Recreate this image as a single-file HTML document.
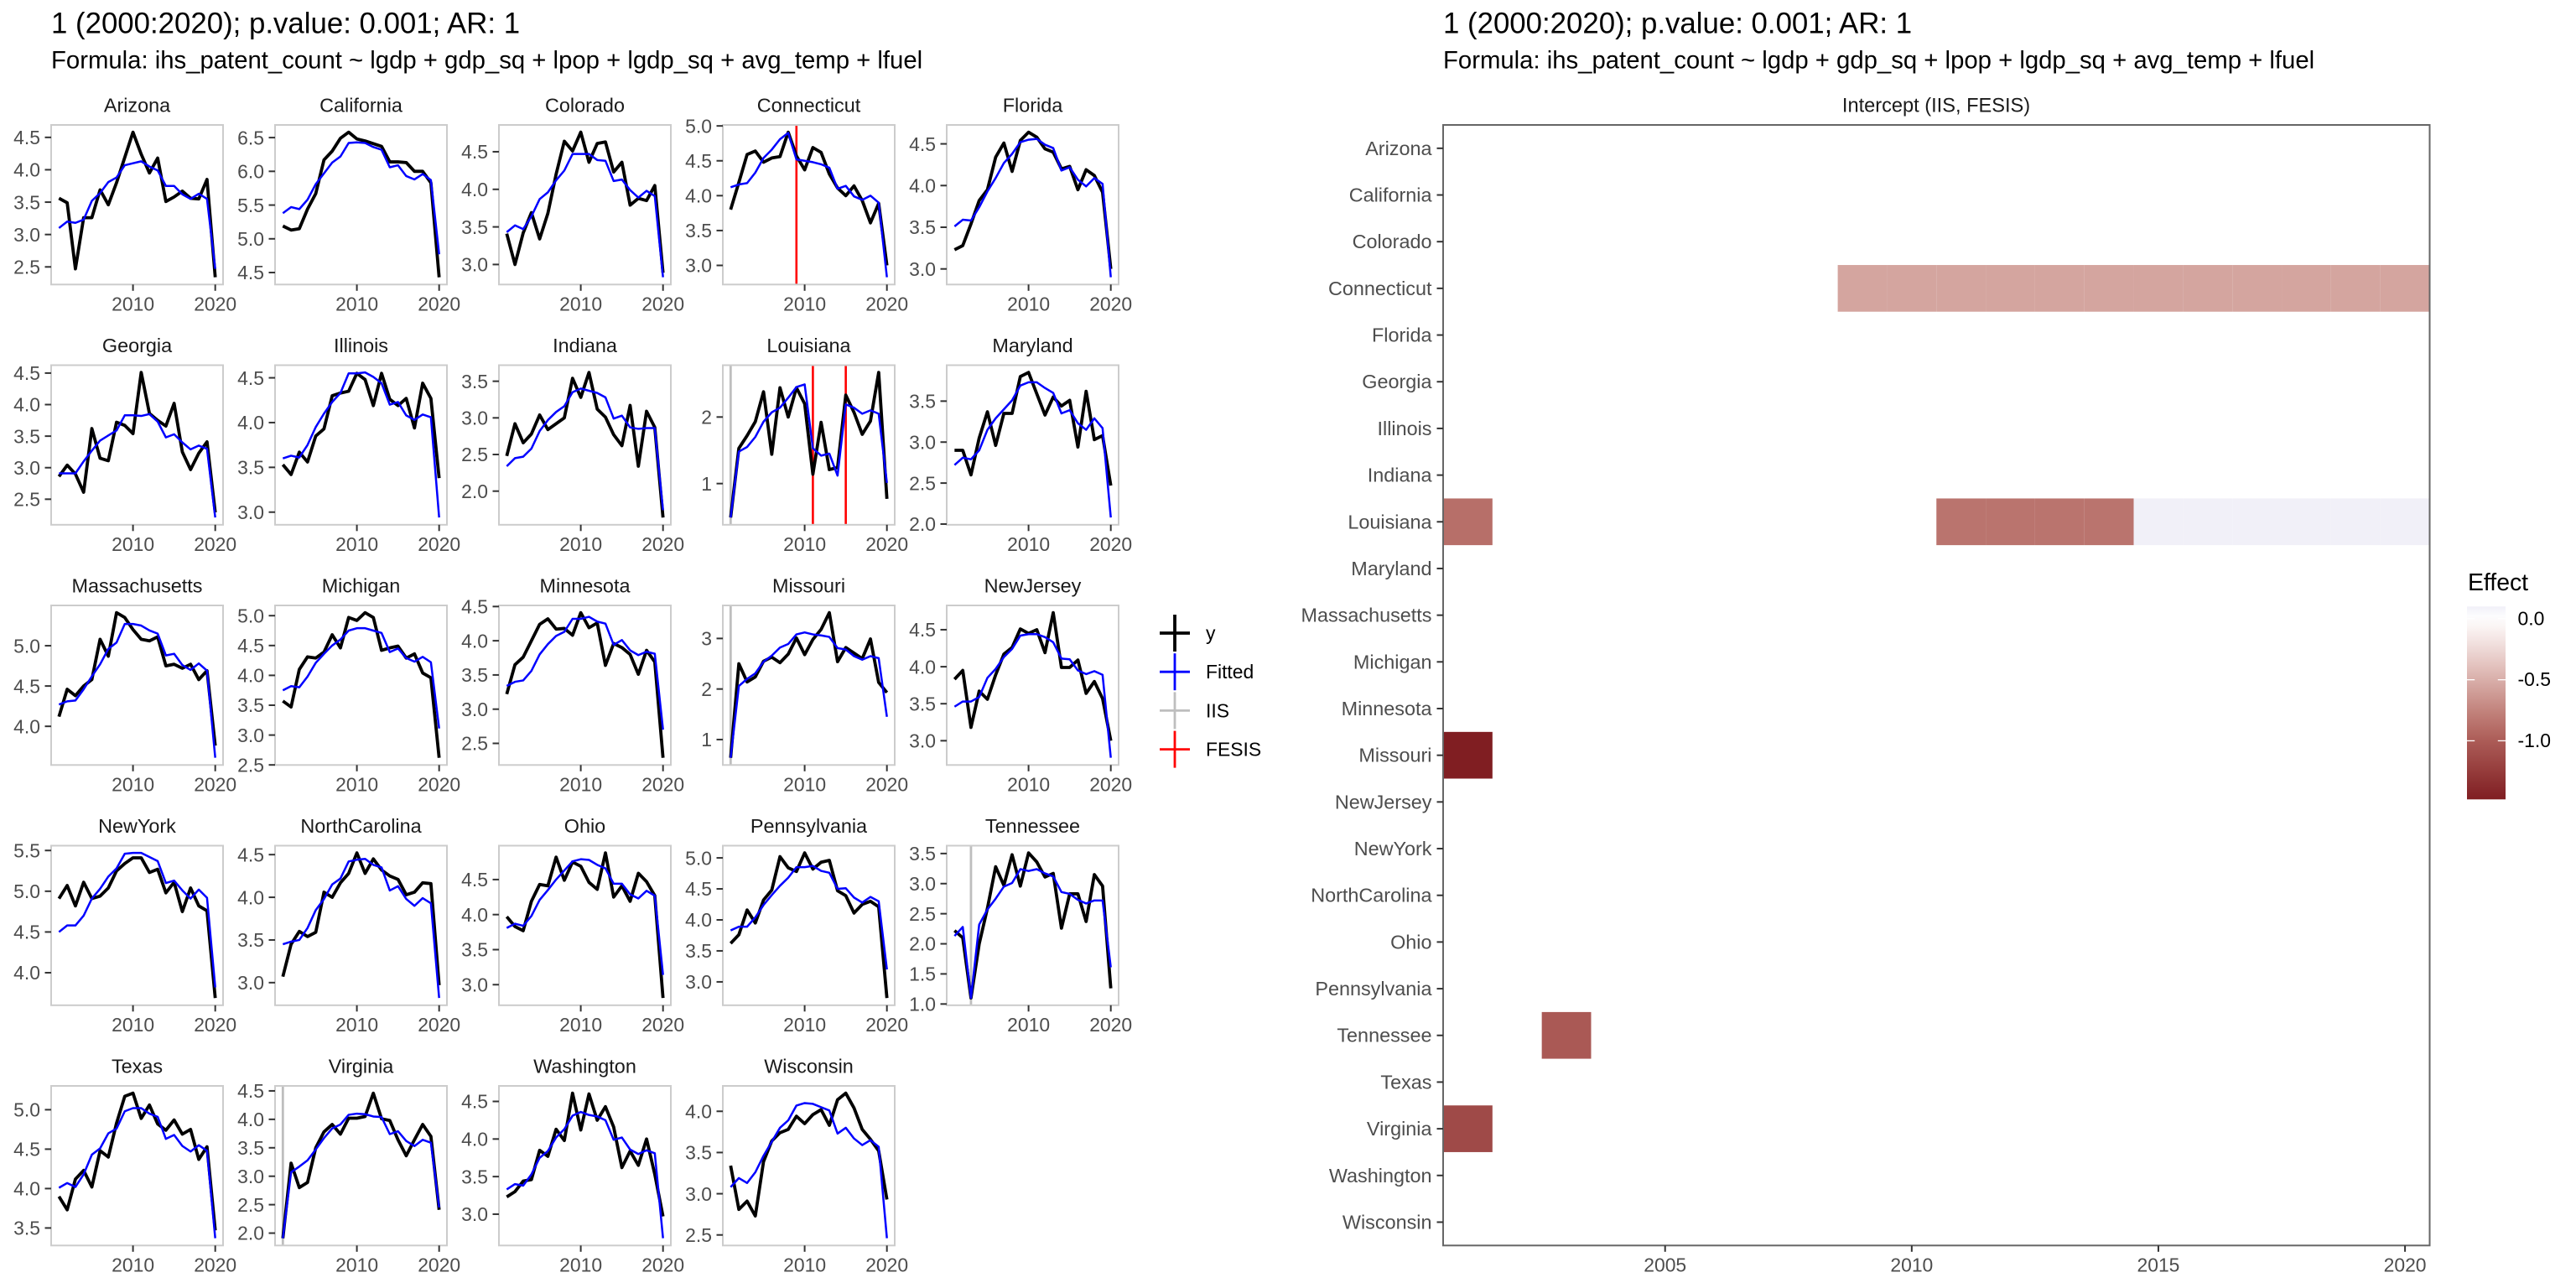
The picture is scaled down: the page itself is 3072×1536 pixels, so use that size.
<!DOCTYPE html>
<html lang="en">
<head>
<meta charset="utf-8">
<title>Patent count break analysis</title>
<style>
  html, body { margin: 0; padding: 0; background: #fff; }
  svg { display: block; font-family: "Liberation Sans", Arial, sans-serif; }
</style>
</head>
<body>
<svg id="figure" xmlns="http://www.w3.org/2000/svg" width="3072" height="1536" viewBox="0 0 3072 1536">
  <rect x="0" y="0" width="3072" height="1536" fill="#fff"/>
  <text x="61" y="39.5" font-size="34.8" fill="#000">1 (2000:2020); p.value: 0.001; AR: 1</text>
  <text x="61" y="81.5" font-size="29.3" fill="#000">Formula: ihs_patent_count ~ lgdp + gdp_sq + lpop + lgdp_sq + avg_temp + lfuel</text>
  <text x="1721" y="39.5" font-size="34.8" fill="#000">1 (2000:2020); p.value: 0.001; AR: 1</text>
  <text x="1721" y="81.5" font-size="29.3" fill="#000">Formula: ihs_patent_count ~ lgdp + gdp_sq + lpop + lgdp_sq + avg_temp + lfuel</text>
  <text x="2309" y="133.5" font-size="23.6" text-anchor="middle" fill="#1a1a1a">Intercept (IIS, FESIS)</text>
  <text x="2943" y="704" font-size="28.4" fill="#000">Effect</text>
  <g id="panels"></g>
  <g id="series-legend"></g>
  <g id="heatmap"></g>
  <g id="effect-legend"></g>
</svg>
<script>
const years = [2001,2002,2003,2004,2005,2006,2007,2008,2009,2010,2011,2012,2013,2014,2015,2016,2017,2018,2019,2020];
const xTickLabels = [2010, 2020];
const states = ["Arizona","California","Colorado","Connecticut","Florida","Georgia","Illinois","Indiana","Louisiana","Maryland","Massachusetts","Michigan","Minnesota","Missouri","NewJersey","NewYork","NorthCarolina","Ohio","Pennsylvania","Tennessee","Texas","Virginia","Washington","Wisconsin"];

const yArizona = [3.56,3.49,2.47,3.26,3.26,3.69,3.46,3.80,4.19,4.58,4.24,3.95,4.18,3.51,3.58,3.67,3.56,3.55,3.85,2.34];
const fitArizona = [3.10,3.20,3.18,3.23,3.52,3.64,3.81,3.88,4.07,4.10,4.13,4.05,3.99,3.75,3.75,3.62,3.55,3.63,3.55,2.47];
const yCalifornia = [5.19,5.13,5.15,5.44,5.67,6.17,6.30,6.49,6.58,6.48,6.45,6.41,6.37,6.14,6.14,6.13,6.00,6.00,5.83,4.43];
const fitCalifornia = [5.38,5.47,5.44,5.58,5.81,5.97,6.13,6.22,6.42,6.43,6.42,6.36,6.32,6.06,6.09,5.93,5.88,5.96,5.87,4.77];
const yColorado = [3.41,3.00,3.42,3.69,3.34,3.68,4.20,4.64,4.51,4.76,4.36,4.61,4.63,4.23,4.36,3.79,3.88,3.85,4.05,2.89];
const fitColorado = [3.43,3.52,3.47,3.64,3.87,3.96,4.12,4.25,4.47,4.47,4.47,4.39,4.38,4.11,4.13,3.99,3.89,3.98,3.91,2.83];
const yConnecticut = [3.80,4.19,4.59,4.64,4.48,4.54,4.56,4.91,4.57,4.37,4.69,4.62,4.31,4.11,4.00,4.14,3.93,3.61,3.89,3.00];
const fitConnecticut = [4.12,4.16,4.18,4.33,4.54,4.66,4.81,4.90,4.52,4.50,4.48,4.45,4.40,4.10,4.14,3.99,3.94,4.00,3.90,2.83];
const yFlorida = [3.23,3.28,3.54,3.82,3.95,4.34,4.51,4.17,4.54,4.64,4.58,4.44,4.40,4.20,4.23,3.95,4.19,4.12,3.92,3.00];
const fitFlorida = [3.51,3.59,3.58,3.74,3.93,4.09,4.27,4.38,4.52,4.55,4.56,4.49,4.45,4.18,4.22,4.07,3.99,4.09,4.02,2.90];
const yGeorgia = [2.86,3.04,2.90,2.61,3.62,3.15,3.11,3.72,3.67,3.54,4.51,3.86,3.75,3.66,4.02,3.25,2.97,3.23,3.41,2.29];
const fitGeorgia = [2.91,2.91,2.91,3.10,3.27,3.43,3.51,3.59,3.83,3.83,3.82,3.85,3.73,3.48,3.53,3.40,3.29,3.35,3.30,2.21];
const yIllinois = [3.53,3.42,3.67,3.56,3.85,3.93,4.30,4.33,4.35,4.55,4.48,4.19,4.55,4.26,4.19,4.27,3.94,4.44,4.27,3.38];
const fitIllinois = [3.60,3.63,3.61,3.75,3.95,4.10,4.23,4.33,4.55,4.55,4.56,4.51,4.44,4.20,4.23,4.08,4.03,4.09,4.06,2.94];
const yIndiana = [2.48,2.92,2.66,2.78,3.04,2.84,2.92,3.00,3.54,3.28,3.62,3.12,3.01,2.77,2.62,3.17,2.34,3.09,2.87,1.64];
const fitIndiana = [2.34,2.45,2.47,2.58,2.82,2.97,3.08,3.16,3.35,3.40,3.37,3.34,3.28,2.99,3.03,2.87,2.85,2.86,2.86,1.74];
const yLouisiana = [0.49,1.53,1.72,1.93,2.38,1.44,2.44,2.00,2.44,2.20,1.14,1.92,1.21,1.24,2.33,2.07,1.74,1.94,2.67,0.77];
const fitLouisiana = [0.49,1.48,1.55,1.70,1.93,2.07,2.14,2.29,2.45,2.49,1.53,1.42,1.45,1.12,2.19,2.14,2.05,2.10,2.05,1.01];
const yMaryland = [2.90,2.90,2.60,3.05,3.37,2.96,3.35,3.35,3.80,3.85,3.59,3.33,3.55,3.44,3.51,2.94,3.62,3.03,3.08,2.47];
const fitMaryland = [2.72,2.81,2.79,2.90,3.15,3.29,3.40,3.51,3.69,3.73,3.73,3.66,3.60,3.35,3.39,3.23,3.15,3.29,3.17,2.08];
const yMassachusetts = [4.12,4.46,4.38,4.50,4.58,5.08,4.87,5.41,5.35,5.20,5.08,5.06,5.11,4.75,4.77,4.72,4.77,4.58,4.69,3.76];
const fitMassachusetts = [4.27,4.31,4.32,4.46,4.62,4.77,4.96,5.04,5.27,5.27,5.25,5.19,5.15,4.88,4.90,4.76,4.70,4.78,4.69,3.61];
const yMichigan = [3.57,3.47,4.10,4.31,4.29,4.39,4.68,4.46,4.97,4.92,5.05,4.97,4.42,4.46,4.49,4.29,4.36,4.04,3.96,2.62];
const fitMichigan = [3.75,3.82,3.80,3.98,4.21,4.36,4.50,4.60,4.75,4.79,4.79,4.75,4.71,4.39,4.45,4.29,4.23,4.31,4.22,3.11];
const yMinnesota = [3.22,3.65,3.76,4.00,4.24,4.32,4.17,4.18,4.08,4.41,4.19,4.26,3.64,3.96,3.90,3.80,3.51,3.86,3.69,2.29];
const fitMinnesota = [3.34,3.40,3.42,3.56,3.80,3.95,4.07,4.13,4.32,4.32,4.35,4.28,4.25,3.94,4.01,3.86,3.79,3.84,3.81,2.70];
const yMissouri = [0.64,2.50,2.14,2.24,2.55,2.63,2.52,2.69,3.01,2.68,2.98,3.18,3.51,2.54,2.82,2.71,2.60,2.99,2.13,1.93];
const fitMissouri = [0.64,2.06,2.20,2.31,2.54,2.66,2.82,2.89,3.08,3.12,3.08,3.06,3.03,2.81,2.78,2.65,2.58,2.65,2.61,1.45];
const yNewJersey = [3.83,3.95,3.18,3.67,3.56,3.89,4.17,4.26,4.51,4.45,4.50,4.19,4.73,3.99,3.99,4.09,3.64,3.80,3.57,3.00];
const fitNewJersey = [3.46,3.53,3.53,3.59,3.85,3.97,4.13,4.24,4.42,4.44,4.44,4.40,4.33,4.11,4.10,3.95,3.90,3.94,3.89,2.77];
const yNewYork = [4.91,5.07,4.82,5.11,4.91,4.94,5.04,5.25,5.34,5.41,5.41,5.23,5.27,4.98,5.11,4.75,5.04,4.82,4.76,3.69];
const fitNewYork = [4.50,4.58,4.58,4.70,4.91,5.03,5.18,5.28,5.46,5.47,5.47,5.42,5.37,5.10,5.13,5.01,4.91,5.02,4.92,3.82];
const yNorthCarolina = [3.07,3.45,3.60,3.54,3.59,4.06,4.00,4.17,4.28,4.52,4.28,4.45,4.32,4.25,4.21,4.03,4.06,4.17,4.16,2.97];
const fitNorthCarolina = [3.45,3.48,3.50,3.64,3.85,3.98,4.15,4.22,4.42,4.44,4.45,4.38,4.35,4.08,4.13,3.98,3.90,3.99,3.93,2.82];
const yOhio = [3.97,3.83,3.77,4.19,4.43,4.41,4.82,4.49,4.75,4.69,4.46,4.36,4.88,4.25,4.41,4.19,4.59,4.47,4.27,2.81];
const fitOhio = [3.81,3.87,3.84,3.98,4.21,4.35,4.50,4.63,4.76,4.79,4.78,4.71,4.66,4.44,4.44,4.29,4.23,4.34,4.27,3.14];
const yPennsylvania = [3.62,3.76,4.16,3.95,4.32,4.48,5.02,4.84,4.78,5.08,4.82,4.93,4.96,4.47,4.39,4.11,4.25,4.30,4.21,2.74];
const fitPennsylvania = [3.83,3.89,3.89,4.04,4.24,4.40,4.55,4.68,4.85,4.85,4.87,4.79,4.76,4.50,4.51,4.36,4.28,4.37,4.30,3.20];
const yTennessee = [2.22,2.10,1.10,2.00,2.59,3.28,2.97,3.48,2.96,3.51,3.36,3.11,3.17,2.26,2.83,2.83,2.37,3.15,2.96,1.26];
const fitTennessee = [2.13,2.28,1.10,2.32,2.57,2.75,2.95,3.01,3.24,3.21,3.24,3.17,3.12,2.86,2.83,2.73,2.67,2.72,2.72,1.61];
const yTexas = [3.90,3.73,4.12,4.23,4.02,4.48,4.40,4.83,5.17,5.21,4.89,5.06,4.82,4.74,4.87,4.69,4.75,4.37,4.53,3.47];
const fitTexas = [4.01,4.07,4.02,4.18,4.43,4.51,4.70,4.76,4.98,5.02,5.02,4.95,4.91,4.63,4.68,4.54,4.47,4.55,4.48,3.37];
const yVirginia = [1.91,3.23,2.80,2.89,3.50,3.78,3.91,3.74,4.02,4.02,4.05,4.46,4.01,3.98,3.64,3.36,3.64,3.91,3.70,2.41];
const fitVirginia = [1.91,3.07,3.17,3.28,3.47,3.67,3.84,3.91,4.08,4.10,4.09,4.05,4.04,3.74,3.79,3.62,3.53,3.64,3.59,2.45];
const yWashington = [3.23,3.30,3.44,3.46,3.85,3.77,4.13,3.98,4.61,4.12,4.60,4.25,4.43,4.16,3.62,3.84,3.65,4.00,3.53,2.97];
const fitWashington = [3.33,3.40,3.38,3.53,3.75,3.84,4.02,4.13,4.31,4.36,4.32,4.30,4.25,3.99,4.02,3.86,3.80,3.85,3.81,2.68];
const yWisconsin = [3.34,2.81,2.91,2.73,3.39,3.64,3.74,3.78,3.94,3.85,3.96,4.02,3.83,4.14,4.22,4.04,3.78,3.66,3.52,2.93];
const fitWisconsin = [3.08,3.19,3.13,3.26,3.46,3.63,3.80,3.89,4.07,4.10,4.09,4.05,4.01,3.73,3.80,3.67,3.59,3.65,3.57,2.46];

const observedSeries = [yArizona,yCalifornia,yColorado,yConnecticut,yFlorida,yGeorgia,yIllinois,yIndiana,yLouisiana,yMaryland,yMassachusetts,yMichigan,yMinnesota,yMissouri,yNewJersey,yNewYork,yNorthCarolina,yOhio,yPennsylvania,yTennessee,yTexas,yVirginia,yWashington,yWisconsin];
const fittedSeries = [fitArizona,fitCalifornia,fitColorado,fitConnecticut,fitFlorida,fitGeorgia,fitIllinois,fitIndiana,fitLouisiana,fitMaryland,fitMassachusetts,fitMichigan,fitMinnesota,fitMissouri,fitNewJersey,fitNewYork,fitNorthCarolina,fitOhio,fitPennsylvania,fitTennessee,fitTexas,fitVirginia,fitWashington,fitWisconsin];
const yTickLabels = [
  ["2.5","3.0","3.5","4.0","4.5"],
  ["4.5","5.0","5.5","6.0","6.5"],
  ["3.0","3.5","4.0","4.5"],
  ["3.0","3.5","4.0","4.5","5.0"],
  ["3.0","3.5","4.0","4.5"],
  ["2.5","3.0","3.5","4.0","4.5"],
  ["3.0","3.5","4.0","4.5"],
  ["2.0","2.5","3.0","3.5"],
  ["1","2"],
  ["2.0","2.5","3.0","3.5"],
  ["4.0","4.5","5.0"],
  ["2.5","3.0","3.5","4.0","4.5","5.0"],
  ["2.5","3.0","3.5","4.0","4.5"],
  ["1","2","3"],
  ["3.0","3.5","4.0","4.5"],
  ["4.0","4.5","5.0","5.5"],
  ["3.0","3.5","4.0","4.5"],
  ["3.0","3.5","4.0","4.5"],
  ["3.0","3.5","4.0","4.5","5.0"],
  ["1.0","1.5","2.0","2.5","3.0","3.5"],
  ["3.5","4.0","4.5","5.0"],
  ["2.0","2.5","3.0","3.5","4.0","4.5"],
  ["3.0","3.5","4.0","4.5"],
  ["2.5","3.0","3.5","4.0"]
];

const iisStates = ["Louisiana","Missouri","Tennessee","Virginia"];
const iisYears = [2001,2001,2003,2001];
const fesisStates = ["Connecticut","Louisiana","Louisiana"];
const fesisYears = [2009,2011,2015];

const legendLabels = ["y","Fitted","IIS","FESIS"];
const legendColors = ["#000000","#0000ff","#bebebe","#ff0000"];

const tileStates = ["Connecticut","Connecticut","Connecticut","Connecticut","Connecticut","Connecticut","Connecticut","Connecticut","Connecticut","Connecticut","Connecticut","Connecticut","Louisiana","Louisiana","Louisiana","Louisiana","Louisiana","Louisiana","Louisiana","Louisiana","Louisiana","Louisiana","Louisiana","Missouri","Tennessee","Virginia"];
const tileYears = [2009,2010,2011,2012,2013,2014,2015,2016,2017,2018,2019,2020,2001,2011,2012,2013,2014,2015,2016,2017,2018,2019,2020,2001,2003,2001];
const tileEffects = [-0.56,-0.56,-0.56,-0.56,-0.56,-0.56,-0.56,-0.56,-0.56,-0.56,-0.56,-0.56,-0.88,-0.85,-0.85,-0.85,-0.85,0.1,0.1,0.1,0.1,0.1,0.1,-1.48,-1.02,-1.14];
const heatXTicks = [2005,2010,2015,2020];
const effectTicks = [0,-0.5,-1];
const effectTickLabels = ["0.0","-0.5","-1.0"];

const colorStopValues = [-1.48,-1.0,-0.75,-0.5,-0.25,0,0.1];
const colorStopRGB = [[128,30,34],[172,92,87],[195,132,125],[217,175,170],[238,217,214],[255,255,255],[241,240,248]];

const SVGNS = "http://www.w3.org/2000/svg";
function make(parent, tag, attrs, txt) {
  const n = document.createElementNS(SVGNS, tag);
  for (const k in attrs) n.setAttribute(k, attrs[k]);
  if (txt !== undefined) n.textContent = txt;
  parent.appendChild(n);
  return n;
}
function slug(s) { return s.toLowerCase(); }

const panelW = 205, panelH = 190.3, colStep = 267, rowStep = 286.5, originX = 61, originY = 149;
const yearMin = years[0], yearMax = years[years.length - 1];

function panelX(left, yr) {
  const pad = (yearMax - yearMin) * 0.05;
  return left + (yr - (yearMin - pad)) / ((yearMax - yearMin) + 2 * pad) * panelW;
}
function panelYScale(top, a, b) {
  const all = a.concat(b);
  const mn = Math.min.apply(null, all), mx = Math.max.apply(null, all);
  const pad = (mx - mn) * 0.05;
  return function (v) { return top + panelH - (v - (mn - pad)) / ((mx - mn) + 2 * pad) * panelH; };
}
function linePoints(vals, left, yS) {
  return vals.map(function (v, i) { return panelX(left, years[i]).toFixed(2) + "," + yS(v).toFixed(2); }).join(" ");
}

const panelsRoot = document.getElementById("panels");
states.forEach(function (st, idx) {
  const left = originX + (idx % 5) * colStep;
  const top = originY + Math.floor(idx / 5) * rowStep;
  const bottom = top + panelH;
  const yS = panelYScale(top, observedSeries[idx], fittedSeries[idx]);
  const key = slug(st);

  const g = make(panelsRoot, "g", {});
  
  

  const strip = make(g, "text", { x: left + panelW / 2, y: top - 15.5, "font-size": 23.4, "text-anchor": "middle", fill: "#1a1a1a" }, st);
  
  

  iisStates.forEach(function (s, k) {
    if (s !== st) return;
    const vx = panelX(left, iisYears[k]);
    const ln = make(g, "line", { x1: vx, x2: vx, y1: top, y2: bottom, stroke: "#bebebe", "stroke-width": 2.8 });
    
    
  });
  fesisStates.forEach(function (s, k) {
    if (s !== st) return;
    const vx = panelX(left, fesisYears[k]);
    const ln = make(g, "line", { x1: vx, x2: vx, y1: top, y2: bottom, stroke: "#ff0000", "stroke-width": 2.6 });
    
    
  });

  const obs = make(g, "polyline", { points: linePoints(observedSeries[idx], left, yS), fill: "none", stroke: "#000", "stroke-width": 3.8, "stroke-linejoin": "round" });
  
  
  const fit = make(g, "polyline", { points: linePoints(fittedSeries[idx], left, yS), fill: "none", stroke: "#0000ff", "stroke-width": 2.5, "stroke-linejoin": "round" });
  
  

  const border = make(g, "rect", { x: left, y: top, width: panelW, height: panelH, fill: "none", stroke: "#cccccc", "stroke-width": 2 });
  
  

  yTickLabels[idx].forEach(function (lab) {
    const ty = yS(parseFloat(lab));
    const t = make(g, "line", { x1: left - 7.5, x2: left, y1: ty, y2: ty, stroke: "#333", "stroke-width": 2 });
    
    
    const tl = make(g, "text", { x: left - 13, y: ty + 8.2, "font-size": 22.9, "text-anchor": "end", fill: "#4d4d4d" }, lab);
    
    
  });
  xTickLabels.forEach(function (yr) {
    const tx = panelX(left, yr);
    const t = make(g, "line", { x1: tx, x2: tx, y1: bottom, y2: bottom + 7.5, stroke: "#333", "stroke-width": 2 });
    
    
    const tl = make(g, "text", { x: tx, y: bottom + 31, "font-size": 22.9, "text-anchor": "middle", fill: "#4d4d4d" }, String(yr));
    
    
  });
});

const legendRoot = document.getElementById("series-legend");
legendLabels.forEach(function (lab, i) {
  const cy = 755 + i * 46.2;
  const cx = 1401;
  const w = i === 0 ? 3.8 : 2.8;
  const g = make(legendRoot, "g", {});
  
  
  const h = make(g, "line", { x1: cx - 18, x2: cx + 18, y1: cy, y2: cy, stroke: legendColors[i], "stroke-width": w });
  
  
  const v = make(g, "line", { x1: cx, x2: cx, y1: cy - 22, y2: cy + 22, stroke: legendColors[i], "stroke-width": w });
  
  
  const t = make(g, "text", { x: 1438, y: cy + 8, "font-size": 22.9, fill: "#000" }, lab);
  
  
});

const heatLeft = 1721, heatRight = 2897.5, heatTop = 149, heatBottom = 1485.3;
const cellW = (heatRight - heatLeft) / years.length;
const cellH = (heatBottom - heatTop) / states.length;
function heatX(yr) { return heatLeft + (yr - yearMin + 0.5) * cellW; }
function heatY(st) { return heatTop + (states.indexOf(st) + 0.5) * cellH; }
function effectColor(v) {
  const sv = colorStopValues, sc = colorStopRGB;
  if (v <= sv[0]) return "rgb(" + sc[0].join(",") + ")";
  for (let i = 1; i < sv.length; i++) {
    if (v <= sv[i]) {
      const f = (v - sv[i - 1]) / (sv[i] - sv[i - 1]);
      const c = sc[i].map(function (x, j) { return Math.round(sc[i - 1][j] + (x - sc[i - 1][j]) * f); });
      return "rgb(" + c.join(",") + ")";
    }
  }
  return "rgb(" + sc[sc.length - 1].join(",") + ")";
}

const heatRoot = document.getElementById("heatmap");
tileStates.forEach(function (st, i) {
  const r = make(heatRoot, "rect", { x: heatX(tileYears[i]) - cellW / 2, y: heatY(st) - cellH / 2, width: cellW, height: cellH, fill: effectColor(tileEffects[i]) });
  
  
});
const heatBorder = make(heatRoot, "rect", { x: heatLeft, y: heatTop, width: heatRight - heatLeft, height: heatBottom - heatTop, fill: "none", stroke: "#666", "stroke-width": 2 });


states.forEach(function (st) {
  const ty = heatY(st);
  const t = make(heatRoot, "line", { x1: heatLeft - 7.5, x2: heatLeft, y1: ty, y2: ty, stroke: "#333", "stroke-width": 2 });
  
  
  const l = make(heatRoot, "text", { x: heatLeft - 13.5, y: ty + 8, "font-size": 23.4, "text-anchor": "end", fill: "#4d4d4d" }, st);
  
  
});
heatXTicks.forEach(function (yr) {
  const tx = heatX(yr);
  const t = make(heatRoot, "line", { x1: tx, x2: tx, y1: heatBottom, y2: heatBottom + 7.5, stroke: "#333", "stroke-width": 2 });
  
  
  const l = make(heatRoot, "text", { x: tx, y: heatBottom + 31, "font-size": 22.9, "text-anchor": "middle", fill: "#4d4d4d" }, String(yr));
  
  
});

const effectRoot = document.getElementById("effect-legend");
const barX = 2942, barW = 46, barTop = 723.3, barH = 230;
const effectMax = Math.max.apply(null, tileEffects), effectMin = Math.min.apply(null, tileEffects);
function barY(v) { return barTop + (effectMax - v) / (effectMax - effectMin) * barH; }
const defs = make(effectRoot, "defs", {});
const grad = make(defs, "linearGradient", { id: "effectGradient", x1: 0, y1: 0, x2: 0, y2: 1 });
for (let k = 0; k <= 20; k++) {
  const v = effectMax - (effectMax - effectMin) * k / 20;
  make(grad, "stop", { offset: k / 20, "stop-color": effectColor(v) });
}
const bar = make(effectRoot, "rect", { x: barX, y: barTop, width: barW, height: barH, fill: "url(#effectGradient)" });


effectTicks.forEach(function (v, i) {
  const ty = barY(v);
  const a = make(effectRoot, "line", { x1: barX, x2: barX + 9.2, y1: ty, y2: ty, stroke: "#fff", "stroke-width": 1.3 });
  
  
  const b = make(effectRoot, "line", { x1: barX + barW - 9.2, x2: barX + barW, y1: ty, y2: ty, stroke: "#fff", "stroke-width": 1.3 });
  
  
  const l = make(effectRoot, "text", { x: 3002.5, y: ty + 7.5, "font-size": 22.9, fill: "#000" }, effectTickLabels[i]);
  
  
});
</script>
</body>
</html>
